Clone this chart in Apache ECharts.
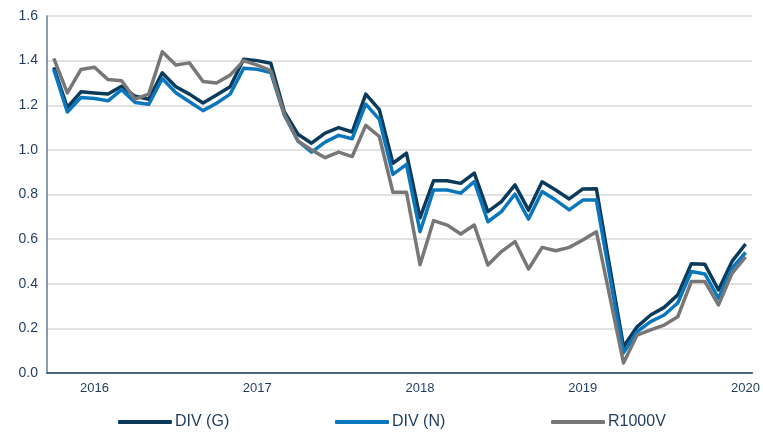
<!DOCTYPE html>
<html>
<head>
<meta charset="utf-8">
<script src="https://cdn.jsdelivr.net/npm/echarts@6/dist/echarts.min.js"></script>
<style>
  html, body { margin: 0; padding: 0; background: #ffffff; }
  #chart { width: 763px; height: 438px; }
</style>
</head>
<body>
<div id="chart"></div>
<script>
const months = [
  '2015-10','2015-11','2015-12',
  '2016-01','2016-02','2016-03','2016-04','2016-05','2016-06','2016-07','2016-08','2016-09','2016-10','2016-11','2016-12',
  '2017-01','2017-02','2017-03','2017-04','2017-05','2017-06','2017-07','2017-08','2017-09','2017-10','2017-11','2017-12',
  '2018-01','2018-02','2018-03','2018-04','2018-05','2018-06','2018-07','2018-08','2018-09','2018-10','2018-11','2018-12',
  '2019-01','2019-02','2019-03','2019-04','2019-05','2019-06','2019-07','2019-08','2019-09','2019-10','2019-11','2019-12',
  '2020-01'
];
const divG = [
  1.37, 1.19, 1.26,
  1.255, 1.25, 1.285, 1.24, 1.227, 1.345, 1.283, 1.25, 1.21, 1.246, 1.283, 1.406,
  1.40, 1.388, 1.17, 1.07, 1.03, 1.075, 1.10, 1.08, 1.25, 1.18, 0.94, 0.985,
  0.695, 0.862, 0.862, 0.85, 0.896, 0.723, 0.768, 0.843, 0.73, 0.857, 0.82, 0.78,
  0.825, 0.826, 0.47, 0.118, 0.207, 0.26, 0.294, 0.35, 0.49, 0.487, 0.372, 0.50,
  0.578
];
const divN = [
  1.36, 1.17, 1.235,
  1.23, 1.22, 1.27, 1.212, 1.204, 1.32, 1.256, 1.216, 1.176, 1.209, 1.25, 1.366,
  1.361, 1.346, 1.155, 1.04, 0.99, 1.035, 1.065, 1.05, 1.205, 1.137, 0.89, 0.935,
  0.633, 0.82, 0.82, 0.806, 0.858, 0.678, 0.723, 0.802, 0.69, 0.813, 0.775, 0.731,
  0.775, 0.775, 0.43, 0.09, 0.185, 0.23, 0.26, 0.314, 0.455, 0.444, 0.335, 0.47,
  0.54
];
const r1000v = [
  1.41, 1.255, 1.36,
  1.37, 1.315, 1.31, 1.227, 1.25, 1.44, 1.38, 1.39, 1.306, 1.30, 1.335, 1.40,
  1.38, 1.355, 1.16, 1.04, 1.0, 0.965, 0.99, 0.97, 1.11, 1.06, 0.81, 0.81,
  0.485, 0.683, 0.663, 0.623, 0.663, 0.484, 0.544, 0.589, 0.466, 0.563, 0.548, 0.563,
  0.596, 0.633, 0.34, 0.045, 0.17, 0.193, 0.215, 0.252, 0.41, 0.41, 0.305, 0.447,
  0.52
];
const seriesNames = ['DIV (G)', 'DIV (N)', 'R1000V'];
const seriesColors = ['#0b3a5b', '#0a77bd', '#777777'];
const yTicks = [0, 0.2, 0.4, 0.6, 0.8, 1.0, 1.2, 1.4, 1.6];

const font = '"Liberation Sans", Arial, sans-serif';
const textColor = '#1f3b5c';
const chart = echarts.init(document.getElementById('chart'), null, { renderer: 'canvas' });

const legendLefts = [118, 335, 551];
const legends = seriesNames.map((n, i) => ({
  data: [n],
  left: legendLefts[i],
  top: 414,
  icon: 'roundRect',
  itemWidth: 54,
  itemHeight: 4,
  itemGap: 0,
  textStyle: { color: textColor, fontSize: 16, fontFamily: font, padding: [0, 0, 0, -2] },
  padding: 0
}));

const dataSets = [divG, divN, r1000v];
chart.setOption({
  animation: false,
  backgroundColor: '#ffffff',
  grid: { left: 47, right: 6, top: 16, bottom: 65, containLabel: false },
  legend: legends,
  xAxis: {
    type: 'category',
    data: months,
    boundaryGap: true,
    axisLine: { show: true, lineStyle: { color: '#1f3b5c', width: 1.5 } },
    axisTick: { show: false },
    splitLine: { show: false },
    axisLabel: {
      color: textColor,
      fontSize: 13,
      fontFamily: font,
      margin: 9,
      interval: (idx) => months[idx].endsWith('-01'),
      formatter: (v) => v.slice(0, 4)
    }
  },
  yAxis: {
    type: 'value',
    min: yTicks[0],
    max: yTicks[yTicks.length - 1],
    interval: 0.2,
    axisLine: { show: true, lineStyle: { color: '#5f7f9c', width: 1.5 } },
    axisTick: { show: false },
    splitLine: { show: true, lineStyle: { color: '#d9d9d9', width: 1.5 } },
    axisLabel: {
      color: textColor,
      fontSize: 14,
      fontFamily: font,
      margin: 9,
      formatter: (v) => v.toFixed(1)
    }
  },
  series: seriesNames.map((n, i) => ({
    name: n,
    type: 'line',
    data: dataSets[i],
    showSymbol: false,
    symbol: 'none',
    lineStyle: { color: seriesColors[i], width: 3.5, join: 'round' },
    itemStyle: { color: seriesColors[i] }
  }))
});
</script>
</body>
</html>
